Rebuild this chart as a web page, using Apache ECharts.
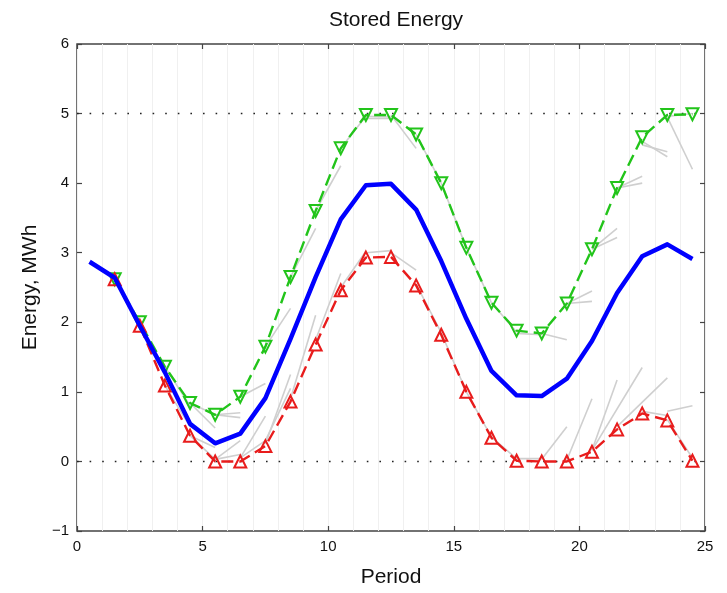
<!DOCTYPE html>
<html>
<head>
<meta charset="utf-8">
<script src="https://cdn.jsdelivr.net/npm/echarts@6/dist/echarts.min.js"></script>
<style>html,body{margin:0;padding:0;background:#fff}#c{width:727px;height:593px}</style>
</head>
<body>
<div id="c"></div>
<script>
const blueX = [0.5,1.5,2.5,3.5,4.5,5.5,6.5,7.5,8.5,9.5,10.5,11.5,12.5,13.5,14.5,15.5,16.5,17.5,18.5,19.5,20.5,21.5,22.5,23.5,24.5];
const blueY = [2.87,2.64,1.95,1.28,0.54,0.26,0.40,0.91,1.76,2.65,3.48,3.97,3.99,3.62,2.88,2.05,1.30,0.95,0.94,1.19,1.73,2.42,2.95,3.12,2.91];
const markX = [1.5,2.5,3.5,4.5,5.5,6.5,7.5,8.5,9.5,10.5,11.5,12.5,13.5,14.5,15.5,16.5,17.5,18.5,19.5,20.5,21.5,22.5,23.5,24.5];
const greenY = [2.62,2.00,1.36,0.84,0.67,0.93,1.65,2.65,3.60,4.50,4.98,4.98,4.70,4.00,3.07,2.28,1.88,1.84,2.27,3.05,3.93,4.66,4.98,4.99];
const redY = [2.62,1.95,1.09,0.37,0.00,0.00,0.22,0.86,1.68,2.46,2.93,2.94,2.53,1.82,1.00,0.34,0.01,0.00,0.00,0.14,0.46,0.69,0.59,0.01];
const boundY = [0, 5];
// thin grey trajectory segments: [x1, y1, x2, y2]
const greySegs = [
  [3.5,1.36,4.5,0.80],[4.5,0.84,5.5,0.48],[4.5,0.84,5.5,0.67],[5.5,0.67,6.5,0.63],[5.5,0.67,6.5,0.70],
  [6.5,0.93,7.5,1.12],[7.5,1.65,8.5,2.20],[8.5,2.65,9.5,3.35],[9.5,3.60,10.5,4.25],[10.5,4.50,11.5,4.96],
  [11.5,4.96,12.5,4.95],[11.5,4.93,12.5,4.93],[12.5,4.98,13.5,4.50],[13.5,4.70,14.5,4.00],[14.5,4.00,15.5,3.07],
  [15.5,3.07,16.5,2.28],[16.5,2.28,17.5,1.86],[17.5,1.84,18.5,1.82],[18.5,1.84,19.5,1.75],
  [19.5,2.27,20.5,2.45],[19.5,2.27,20.5,2.30],[20.5,3.05,21.5,3.35],[20.5,3.05,21.5,3.22],
  [21.5,3.93,22.5,4.10],[21.5,3.93,22.5,4.00],[22.5,4.55,23.5,4.45],[22.5,4.60,23.5,4.38],
  [23.5,4.95,24.5,4.20],[23.5,4.96,24.5,5.00],
  [3.5,1.09,4.5,0.50],[4.5,0.37,5.5,0.20],[4.5,0.37,5.5,0.03],[5.5,0.03,6.5,0.30],[5.5,0.03,6.5,0.10],
  [6.5,0.05,7.5,0.65],[6.5,0.05,7.5,0.30],[7.5,0.25,8.5,1.25],[7.5,0.30,8.5,1.05],[8.5,0.90,9.5,2.10],
  [9.5,1.75,10.5,2.70],[10.5,2.50,11.5,3.02],[11.5,3.00,12.5,3.03],[12.5,3.00,13.5,2.75],[13.5,2.55,14.5,1.85],
  [14.5,1.85,15.5,1.00],[15.5,1.00,16.5,0.35],[16.5,0.35,17.5,0.04],[17.5,0.04,18.5,0.04],
  [18.5,0.03,19.5,0.50],[19.5,0.02,20.5,0.90],[20.5,0.16,21.5,1.17],[20.5,0.16,22.5,1.35],
  [21.5,0.50,23.5,1.20],[22.5,0.72,23.5,0.66],[23.5,0.72,24.5,0.80],[23.5,0.60,24.5,0.05]
];

const toPairs = (xs, ys) => xs.map((x, i) => [x, ys[i]]);
const font = '"Liberation Sans", Arial, Helvetica, sans-serif';
const minus = v => String(v).replace('-', '\u2212');

const series = [];
greySegs.forEach(s => {
  series.push({
    type: 'line', silent: true, symbol: 'none', z: 1,
    data: [[s[0], s[1]], [s[2], s[3]]],
    lineStyle: { color: '#cfcfcf', width: 1.6 }
  });
});
boundY.forEach(b => {
  series.push({
    type: 'line', symbol: 'none', z: 2, silent: true,
    data: [[0, b], [25, b]],
    lineStyle: { color: '#222', width: 1.6, type: [1.6, 11] }
  });
});
series.push({
  type: 'line', z: 3, data: toPairs(markX, greenY),
  symbol: 'triangle', symbolRotate: 180, symbolSize: 12, showAllSymbol: true,
  lineStyle: { color: '#22c41a', width: 2.4, type: [12, 6] },
  itemStyle: { color: 'rgba(255,255,255,0)', borderColor: '#22c41a', borderWidth: 2 }
});
series.push({
  type: 'line', z: 3, data: toPairs(markX, redY),
  symbol: 'triangle', symbolSize: 12, showAllSymbol: true,
  lineStyle: { color: '#e81c1c', width: 2.4, type: [12, 6] },
  itemStyle: { color: 'rgba(255,255,255,0)', borderColor: '#e81c1c', borderWidth: 2 }
});
series.push({
  type: 'line', z: 4, data: toPairs(blueX, blueY), symbol: 'none',
  lineStyle: { color: '#0000ff', width: 4.5, join: 'round' }
});

const tick = { show: true, inside: true, length: 5, lineStyle: { color: '#444', width: 1.2 } };
const chart = echarts.init(document.getElementById('c'), null, { renderer: 'canvas' });
chart.setOption({
  animation: false,
  backgroundColor: '#fff',
  title: {
    text: 'Stored Energy', left: 391, top: 5, textAlign: 'center',
    textStyle: { fontFamily: font, fontSize: 21, fontWeight: 'normal', color: '#111' }
  },
  grid: { left: 77, right: 22, top: 44, bottom: 56, show: true, borderColor: '#444', borderWidth: 1.5, backgroundColor: 'transparent' },
  xAxis: [{
    type: 'value', min: 0, max: 25, interval: 5,
    name: 'Period', nameLocation: 'middle', nameGap: 36,
    nameTextStyle: { fontFamily: font, fontSize: 21, color: '#111' },
    axisLine: { show: false, onZero: false },
    axisTick: tick,
    axisLabel: { fontFamily: font, fontSize: 15, color: '#111', margin: 8 },
    splitLine: { show: true, lineStyle: { color: '#f0f0f0', width: 1 } },
    minorTick: { show: false, splitNumber: 5 },
    minorSplitLine: { show: true, lineStyle: { color: '#f0f0f0', width: 1 } }
  }, {
    type: 'value', min: 0, max: 25, interval: 5, position: 'top',
    axisLine: { show: false, onZero: false }, axisLabel: { show: false }, splitLine: { show: false },
    axisTick: tick
  }],
  yAxis: [{
    type: 'value', min: -1, max: 6, interval: 1,
    name: 'Energy, MWh', nameLocation: 'middle', nameGap: 36, nameRotate: 90,
    nameTextStyle: { fontFamily: font, fontSize: 21, color: '#111' },
    axisLine: { show: false, onZero: false },
    axisTick: tick,
    axisLabel: { fontFamily: font, fontSize: 15, color: '#111', margin: 8, formatter: minus },
    splitLine: { show: false }
  }, {
    type: 'value', min: -1, max: 6, interval: 1, position: 'right',
    axisLine: { show: false, onZero: false }, axisLabel: { show: false }, splitLine: { show: false },
    axisTick: tick
  }],
  series: series
});
</script>
</body>
</html>
